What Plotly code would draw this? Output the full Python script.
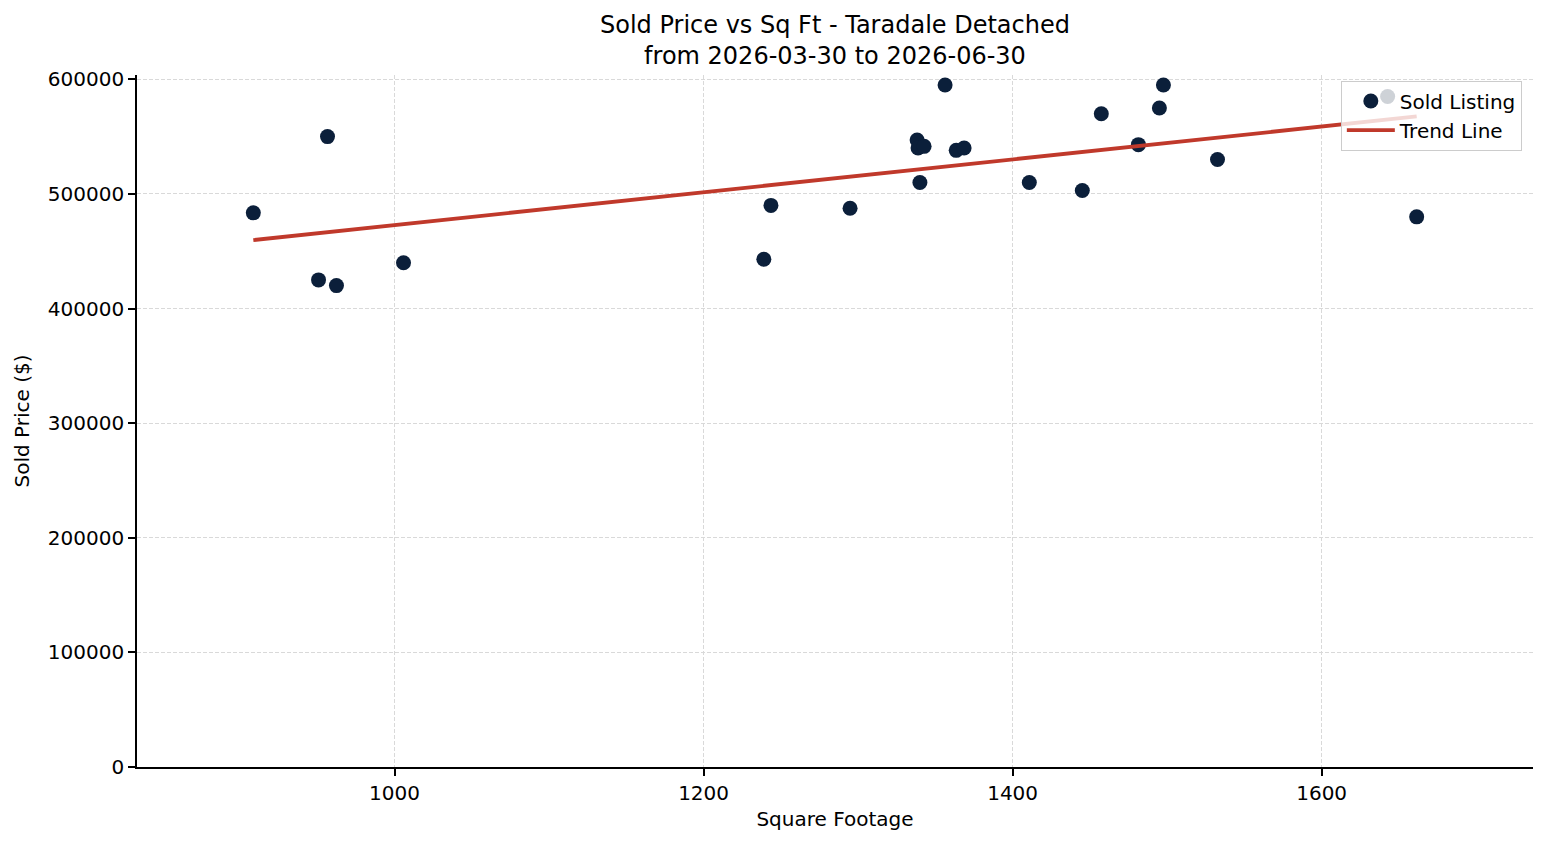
import numpy as np
import plotly.graph_objects as go

# Data
sqft = [908.6, 950.8, 956.6, 962.4, 1005.8, 1239.0, 1243.6, 1294.8, 1338.2, 1338.8,
        1342.7, 1340.0, 1356.3, 1363.5, 1368.6, 1410.8, 1445.1, 1457.4, 1481.4, 1495.0,
        1497.6, 1532.6, 1642.7, 1661.5]
price = [483500, 425000, 550000, 420000, 440000, 443000, 490000, 487500, 547000, 540000,
         541500, 510000, 595000, 538000, 540000, 510000, 503000, 570000, 543000, 575000,
         595000, 530000, 585000, 480000]
x_ticks = [1000, 1200, 1400, 1600]
y_ticks = [0, 100000, 200000, 300000, 400000, 500000, 600000]

title_text = "Sold Price vs Sq Ft - Taradale Detached<br>from 2026-03-30 to 2026-06-30"

x = np.array(sqft)
y = np.array(price)
slope, intercept = np.polyfit(x, y, 1)
x_line = np.array([x.min(), x.max()])
y_line = slope * x_line + intercept

xspan = x.max() - x.min()
x_range = [x.min() - 0.1 * xspan, x.max() + 0.1 * xspan]
yspan = y.max() - y.min()
y_range = [0, y.max() + 0.05 * yspan]

FONT = "DejaVu Sans"

fig = go.Figure()
fig.add_trace(go.Scatter(
    x=sqft, y=price, mode="markers", name="Sold Listing",
    marker=dict(color="#0b1f3a", size=15, line=dict(width=0)),
))
fig.add_trace(go.Scatter(
    x=x_line, y=y_line, mode="lines", name="Trend Line",
    line=dict(color="#c0392b", width=3.8),
))

fig.update_layout(
    width=1547, height=845,
    paper_bgcolor="white", plot_bgcolor="white",
    margin=dict(l=137, r=14, t=75, b=78),
    font=dict(family=FONT, size=20, color="black"),
    title=dict(text=title_text, x=0.5, xanchor="center", xref="paper",
               y=1 - 33 / 845, yanchor="top", yref="container",
               font=dict(family=FONT, size=24, color="black")),
    showlegend=True,
    legend=dict(x=0.992, y=0.992, xanchor="right", yanchor="top",
                bgcolor="rgba(255,255,255,0.8)", bordercolor="#cccccc", borderwidth=1,
                font=dict(family=FONT, size=20, color="black"),
                itemwidth=48, tracegroupgap=0),
)

grid = dict(showgrid=True, gridcolor="#d9d9d9", gridwidth=0.8, griddash="4px,2px")
fig.update_xaxes(
    range=x_range, tickvals=x_ticks, ticktext=[str(v) for v in x_ticks],
    showline=True, linecolor="black", linewidth=1.6, mirror=False,
    ticks="outside", ticklen=7, tickwidth=1.6, tickcolor="black",
    zeroline=False,
    title=dict(text="Square Footage", standoff=8, font=dict(family=FONT, size=20)),
    tickfont=dict(family=FONT, size=20),
    **grid,
)
fig.update_yaxes(
    range=y_range, tickvals=y_ticks, ticktext=[str(v) for v in y_ticks],
    showline=True, linecolor="black", linewidth=1.6, mirror=False,
    ticks="outside", ticklen=7, tickwidth=1.6, tickcolor="black",
    zeroline=False,
    title=dict(text="Sold Price ($)", standoff=13, font=dict(family=FONT, size=20)),
    tickfont=dict(family=FONT, size=20),
    **grid,
)

fig.write_html("out.html")
